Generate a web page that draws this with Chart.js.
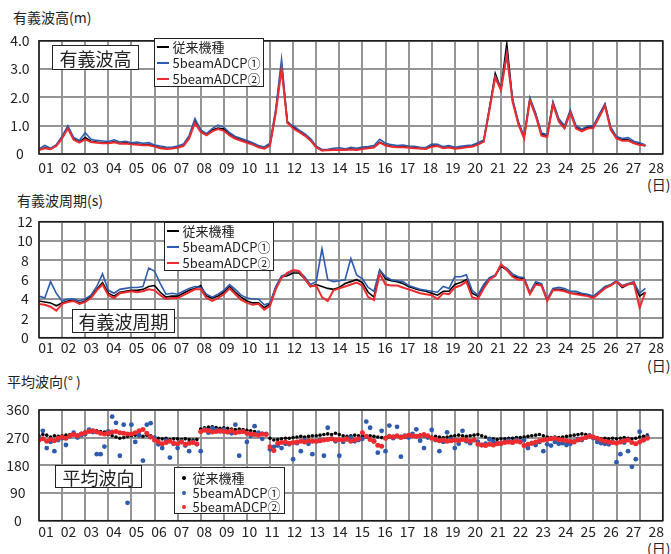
<!DOCTYPE html>
<html>
<head>
<meta charset="utf-8">
<script src="https://cdn.jsdelivr.net/npm/chart.js@4.4.0/dist/chart.umd.min.js"></script>
<style>
  body { margin: 0; width: 671px; height: 554px; position: relative; overflow: hidden; background: #fff;
         font-family: "Noto Sans CJK JP", "Noto Sans", sans-serif; color: #222; }
  canvas { position: absolute; left: 0; }
  .title { position: absolute; font-size: 14px; line-height: 16px; white-space: nowrap; }
  .unit { position: absolute; left: 647px; font-size: 14px; line-height: 14px; white-space: nowrap; }
  .tag { position: absolute; box-sizing: border-box; background: #fff; border: 1.5px solid #222;
         font-size: 18px; display: flex; align-items: center; justify-content: center; z-index: 2; }
  .legend { position: absolute; box-sizing: border-box; background: #fff; border: 1.5px solid #222;
            font-size: 13px; z-index: 2; }
  .row { position: relative; height: 16px; line-height: 16px; padding-left: 17.5px; white-space: nowrap; }
  .ln { position: absolute; left: 2px; top: 7px; width: 12px; height: 2px; }
  .dot { position: absolute; left: 7px; top: 6px; width: 4px; height: 4px; border-radius: 50%; }
</style>
</head>
<body>

<div class="title" style="left:13px;top:9px">有義波高(m)</div>
<div class="title" style="left:17px;top:192px">有義波周期(s)</div>
<div class="title" style="left:7px;top:373px">平均波向(° )</div>
<div class="unit" style="top:177px">(日)</div>
<div class="unit" style="top:358px">(日)</div>
<div class="unit" style="top:541px">(日)</div>

<canvas id="heightChart" width="671" height="155" style="top:23px"></canvas>
<canvas id="periodChart" width="671" height="151" style="top:207px"></canvas>
<canvas id="dirChart" width="671" height="152" style="top:392px"></canvas>

<div class="tag" style="left:52px;top:45px;width:87px;height:25px">有義波高</div>
<div class="tag" style="left:72px;top:309px;width:103px;height:24px">有義波周期</div>
<div class="tag" style="left:55px;top:465px;width:87px;height:23px">平均波向</div>

<div class="legend" style="left:154px;top:38px;width:110px;height:49px">
  <div class="row"><span class="ln" style="background:#000"></span>従来機種</div>
  <div class="row"><span class="ln" style="background:#2d5cae"></span>5beamADCP①</div>
  <div class="row"><span class="ln" style="background:#ee2b2f"></span>5beamADCP②</div>
</div>
<div class="legend" style="left:164px;top:222px;width:110px;height:49px">
  <div class="row"><span class="ln" style="background:#000"></span>従来機種</div>
  <div class="row"><span class="ln" style="background:#2d5cae"></span>5beamADCP①</div>
  <div class="row"><span class="ln" style="background:#ee2b2f"></span>5beamADCP②</div>
</div>
<div class="legend" style="left:174px;top:467px;width:111px;height:47px;padding-top:3px">
  <div class="row" style="height:14.5px;line-height:14.5px"><span class="dot" style="background:#000;top:5px"></span>従来機種</div>
  <div class="row" style="height:14.5px;line-height:14.5px"><span class="dot" style="background:#2d5cae;top:5px"></span>5beamADCP①</div>
  <div class="row" style="height:14.5px;line-height:14.5px"><span class="dot" style="background:#ee2b2f;top:5px"></span>5beamADCP②</div>
</div>

<script>
// x axis: day labels, values are sampled every 6 h (lines) / 4 h (directions)
const dayLabels = ['01','02','03','04','05','06','07','08','09','10','11','12','13','14',
                   '15','16','17','18','19','20','21','22','23','24','25','26','27','28'];
const lineStepDays = 0.25;
const dirStepDays = 1 / 6;

// 有義波高 (m)
const heightOld = [
  0.15,0.22,0.18,0.30, 0.60,0.95,0.55,0.42, 0.58,0.45,0.42,0.40, 0.40,0.43,0.38,0.40,
  0.36,0.35,0.33,0.33, 0.28,0.22,0.20,0.20, 0.24,0.30,0.60,1.18, 0.82,0.70,0.85,0.92,
  0.88,0.70,0.58,0.50, 0.42,0.35,0.26,0.20, 0.32,1.50,3.15,1.15, 0.95,0.82,0.68,0.50,
  0.25,0.13,0.14,0.15, 0.16,0.15,0.18,0.15, 0.20,0.22,0.25,0.42, 0.32,0.28,0.25,0.26,
  0.24,0.22,0.20,0.20, 0.28,0.30,0.22,0.25, 0.20,0.22,0.26,0.28, 0.35,0.45,1.60,2.85,
  2.30,3.90,1.90,1.10, 0.60,1.90,1.40,0.70, 0.65,1.80,1.20,0.95, 1.50,0.95,0.82,0.95,
  0.95,1.35,1.75,0.90, 0.58,0.50,0.50,0.40, 0.35,0.28];
const heightAdcp1 = [
  0.18,0.30,0.20,0.33, 0.62,1.00,0.58,0.48, 0.75,0.52,0.48,0.46, 0.44,0.50,0.42,0.45,
  0.40,0.42,0.38,0.40, 0.32,0.28,0.25,0.24, 0.28,0.35,0.65,1.25, 0.85,0.72,0.90,1.02,
  0.95,0.75,0.62,0.55, 0.48,0.40,0.30,0.25, 0.38,1.60,3.35,1.10, 1.00,0.85,0.72,0.55,
  0.28,0.16,0.17,0.20, 0.22,0.18,0.24,0.20, 0.25,0.26,0.30,0.52, 0.38,0.33,0.30,0.32,
  0.28,0.27,0.24,0.23, 0.35,0.34,0.26,0.30, 0.24,0.27,0.30,0.32, 0.40,0.50,1.65,2.75,
  2.30,3.60,1.95,1.15, 0.62,2.00,1.45,0.75, 0.68,1.85,1.25,1.00, 1.55,1.00,0.88,1.00,
  1.00,1.40,1.78,0.95, 0.62,0.55,0.58,0.45, 0.40,0.32];
const heightAdcp2 = [
  0.14,0.20,0.17,0.28, 0.55,0.90,0.50,0.40, 0.52,0.42,0.40,0.38, 0.38,0.41,0.36,0.37,
  0.34,0.33,0.31,0.31, 0.26,0.20,0.18,0.19, 0.22,0.28,0.55,1.10, 0.78,0.66,0.80,0.88,
  0.82,0.66,0.54,0.47, 0.40,0.33,0.24,0.19, 0.30,1.45,3.00,1.10, 0.90,0.78,0.65,0.48,
  0.23,0.12,0.13,0.14, 0.15,0.14,0.16,0.14, 0.18,0.20,0.23,0.40, 0.30,0.26,0.24,0.24,
  0.22,0.20,0.19,0.18, 0.26,0.28,0.20,0.23, 0.19,0.20,0.24,0.26, 0.33,0.43,1.55,2.70,
  2.25,3.50,1.85,1.05, 0.55,1.90,1.35,0.65, 0.60,1.75,1.15,0.90, 1.45,0.90,0.80,0.90,
  0.92,1.30,1.70,0.85, 0.55,0.47,0.47,0.38, 0.32,0.30];

// 有義波周期 (s)
const periodOld = [
  3.8,3.7,3.6,3.3, 3.6,3.8,3.9,3.6, 3.8,4.3,5.0,5.7, 4.6,4.3,4.7,4.8,
  4.9,4.9,5.0,5.3, 5.4,4.7,4.2,4.3, 4.3,4.6,4.9,5.1, 5.4,4.3,4.1,4.3,
  4.7,5.3,4.7,4.2, 3.8,3.6,3.6,3.1, 3.5,5.2,6.3,6.4, 6.7,6.7,6.1,5.3,
  5.5,5.3,5.1,5.0, 5.2,5.6,5.8,6.0, 5.7,4.7,4.2,7.0, 6.1,5.9,5.8,5.6,
  5.3,5.1,4.9,4.8, 4.6,4.4,4.8,4.8, 5.5,5.7,6.0,4.6, 4.3,5.4,6.1,6.4,
  7.4,7.0,6.4,6.2, 6.1,4.6,5.6,5.5, 3.9,5.0,5.0,4.9, 4.6,4.6,4.5,4.4,
  4.2,4.6,5.2,5.4, 5.8,5.2,5.5,5.6, 4.3,4.7];
const periodAdcp1 = [
  4.3,4.1,5.8,4.6, 3.8,4.0,4.0,3.8, 4.0,4.4,5.3,6.6, 4.9,4.6,5.0,5.1,
  5.2,5.2,5.3,7.2, 6.9,5.6,4.5,4.6, 4.5,4.8,5.1,5.3, 5.2,4.5,4.2,4.5,
  4.9,5.5,5.0,4.4, 4.1,4.0,4.0,3.4, 3.6,5.3,6.4,6.6, 6.9,6.9,6.3,5.5,
  5.8,9.2,6.0,5.8, 5.9,6.0,8.2,6.5, 6.1,5.2,4.8,7.0, 6.3,6.0,5.9,5.8,
  5.4,5.2,5.0,4.9, 4.8,4.7,5.3,5.1, 6.3,6.3,6.5,4.9, 4.4,5.5,6.2,6.5,
  7.5,7.2,6.6,6.3, 6.2,4.7,5.8,5.6, 4.0,5.1,5.2,5.1, 4.8,4.8,4.6,4.5,
  4.3,4.8,5.3,5.5, 5.9,5.4,5.6,5.8, 4.6,5.1];
const periodAdcp2 = [
  3.5,3.4,3.2,2.8, 3.5,3.7,3.8,3.5, 3.7,4.1,4.9,5.5, 4.4,4.1,4.6,4.7,
  4.8,4.7,4.8,5.0, 4.9,4.4,4.0,4.1, 4.1,4.4,4.7,5.0, 5.0,4.1,3.8,4.1,
  4.5,5.1,4.5,3.9, 3.6,3.4,3.5,2.9, 3.3,5.0,6.2,6.7, 7.0,6.9,6.1,5.3,
  5.4,4.2,3.8,4.9, 5.1,5.3,5.5,5.7, 5.4,4.2,3.9,6.6, 5.5,5.4,5.4,5.2,
  5.0,4.8,4.6,4.5, 4.4,4.0,4.6,4.5, 5.2,5.4,5.8,4.2, 4.0,5.1,6.0,6.4,
  7.6,7.0,6.3,6.0, 6.0,4.5,5.5,5.4, 3.8,4.9,4.9,4.8, 4.6,4.5,4.4,4.3,
  4.1,4.6,5.1,5.4, 5.8,5.3,5.5,5.7, 3.1,4.7];

// 平均波向 (°)
const dirOld = [
  275,280,278,272,276,274, 276,278,280,282,278,284, 288,292,294,292,290,288,
  280,276,272,268,270,274, 276,278,276,274,278,276, 270,268,266,268,264,266,
  266,264,266,264,262,264, 298,302,304,305,303,300, 302,300,298,296,298,296,
  294,292,290,286,284,282, 268,262,264,266,268,268, 270,272,274,272,274,276,
  276,278,280,282,280,284, 280,276,274,276,278,276, 274,272,276,274,272,270,
  270,272,274,276,274,272, 276,278,276,278,276,274, 272,274,272,270,272,274,
  276,278,276,274,276,278, 280,276,272,268,266,264, 266,266,268,268,270,270,
  272,274,276,278,280,276, 272,270,272,270,272,274, 276,278,280,282,280,278,
  270,268,266,268,266,268, 266,268,270,268,266,268, 272,274,278];
const dirAdcp1 = [
  270,292,236,256,226,262, 268,246,274,286,270,278, 282,296,288,216,216,241,
  290,338,318,211,312,58,  312,256,278,195,312,317, 270,248,236,260,205,250,
  236,258,244,226,256,248, 226,297,286,300,294,290, 296,288,284,312,211,290,
  256,276,307,286,266,282, 232,240,244,236,250,248, 200,252,226,262,250,216,
  258,262,211,302,266,258, 211,256,264,270,258,262, 266,322,302,258,221,292,
  226,309,268,305,208,276, 270,282,297,260,236,270, 295,262,226,256,287,264,
  236,250,292,258,252,262, 256,246,250,264,258,252, 250,256,260,254,262,258,
  262,236,252,246,256,226, 248,244,256,250,252,246, 250,258,266,262,270,276,
  268,256,252,250,248,256, 190,216,254,226,175,200, 289,262,272];
const dirAdcp2 = [
  262,266,258,264,260,268, 272,268,276,280,276,282, 286,290,292,288,284,282,
  284,288,290,286,284,282, 282,286,292,296,284,272, 262,256,250,254,258,252,
  250,256,248,252,254,250, 290,294,292,288,290,292, 290,288,292,286,288,290,
  284,282,280,278,282,280, 240,228,252,254,256,252, 254,256,258,256,260,258,
  258,260,262,264,266,262, 264,262,266,258,262,266, 286,274,264,258,245,242,
  268,274,272,276,270,274, 278,276,274,276,280,276, 268,264,260,262,258,260,
  262,260,264,262,258,262, 248,246,244,248,246,250, 252,254,256,254,258,256,
  244,248,252,256,260,262, 264,266,268,264,262,260, 258,256,262,266,270,274,
  272,268,262,258,256,254, 252,256,260,262,254,250, 256,262,268];

const BLACK = '#000000', BLUE = '#2d5cae', RED = '#ee2b2f';
const gridColor = '#959595';
const tickFont = { family: '"Noto Sans CJK JP", sans-serif', size: 14 };

const toPoints = (vals, step) => vals.map((v, i) => ({ x: i * step, y: v }));

// black box round the plot area
const framePlugin = {
  id: 'frame',
  afterDraw(chart) {
    const { ctx, chartArea: a } = chart;
    ctx.save();
    ctx.strokeStyle = '#1a1a1a';
    ctx.lineWidth = 1.5;
    ctx.strokeRect(a.left, a.top, a.right - a.left, a.bottom - a.top);
    ctx.restore();
  }
};

function makeChart(id, type, datasets, o) {
  return new Chart(document.getElementById(id), {
    type: type,
    data: { datasets: datasets },
    options: {
      responsive: false,
      animation: false,
      layout: { padding: { top: o.padTop, right: 8.3 } },
      plugins: { legend: { display: false }, tooltip: { enabled: false } },
      scales: {
        // one grid line per day; labels come from the xd axis
        x: {
          type: 'linear', min: 0, max: 27, weight: 0,
          border: { display: false },
          grid: { color: gridColor, lineWidth: 2, drawTicks: false },
          ticks: { display: false, stepSize: 1, maxTicksLimit: 40 },
          afterFit: s => { s.height = 0; }
        },
        // day labels sit slightly inside the day lines, as in the original sheet
        xd: {
          type: 'linear', position: 'bottom', min: -0.31, max: 27.29, weight: 1,
          border: { display: false },
          grid: { display: false, drawTicks: false },
          ticks: {
            stepSize: 1, includeBounds: false, autoSkip: false, maxRotation: 0, maxTicksLimit: 40,
            padding: o.xPad, font: tickFont, color: '#222',
            callback: v => dayLabels[Math.round(v)]
          },
          afterFit: s => { s.height = o.xHeight; }
        },
        y: {
          min: o.yMin, max: o.yMax,
          border: { display: false },
          grid: { color: gridColor, lineWidth: 2, drawTicks: false },
          ticks: {
            stepSize: o.yStep, autoSkip: false, crossAlign: 'center', padding: o.yPad,
            font: tickFont, color: '#222', callback: o.yFmt
          },
          afterFit: s => { s.width = 39; }
        }
      }
    },
    plugins: [framePlugin]
  });
}

function lineSet(vals, color, width, order) {
  return {
    data: toPoints(vals, lineStepDays), xAxisID: 'x', yAxisID: 'y',
    borderColor: color, borderWidth: width, pointRadius: 0, tension: 0, order: order
  };
}

function dotSet(vals, color, radius, order) {
  return {
    data: toPoints(vals, dirStepDays), xAxisID: 'x', yAxisID: 'y',
    backgroundColor: color, borderWidth: 0, pointRadius: radius, order: order
  };
}

makeChart('heightChart', 'line', [
  lineSet(heightOld, BLACK, 1.6, 3),
  lineSet(heightAdcp1, BLUE, 1.6, 2),
  lineSet(heightAdcp2, RED, 2, 1)
], { padTop: 10, xPad: 5.6, xHeight: 24, yMin: 0, yMax: 4, yStep: 1, yPad: 9.4,
     yFmt: v => (v === 0 ? '0' : v.toFixed(1)) });

makeChart('periodChart', 'line', [
  lineSet(periodOld, BLACK, 1.6, 3),
  lineSet(periodAdcp1, BLUE, 1.6, 2),
  lineSet(periodAdcp2, RED, 2, 1)
], { padTop: 10.7, xPad: 2, xHeight: 20.3, yMin: 0, yMax: 12, yStep: 2, yPad: 6.3,
     yFmt: v => String(v) });

makeChart('dirChart', 'scatter', [
  dotSet(dirOld, BLACK, 1.8, 3),
  dotSet(dirAdcp1, BLUE, 2.4, 2),
  dotSet(dirAdcp2, RED, 2.5, 1)
], { padTop: 10.7, xPad: 3, xHeight: 23.3, yMin: 0, yMax: 360, yStep: 90, yPad: 9.5,
     yFmt: v => String(v) });
</script>
</body>
</html>
